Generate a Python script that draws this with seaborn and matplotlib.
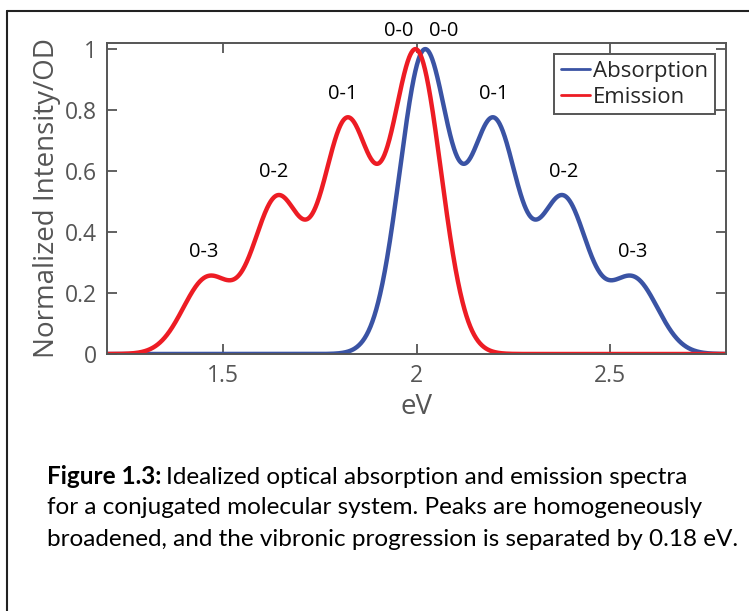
import numpy as np
import pandas as pd
import matplotlib
matplotlib.use("Agg")
import matplotlib.pyplot as plt
import seaborn as sns
from matplotlib.lines import Line2D

# Vibronic peaks (energy in eV, relative intensity) for each spectrum
absorption_peaks_ev = [2.02, 2.20, 2.38, 2.56]
emission_peaks_ev = [2.00, 1.82, 1.64, 1.46]
peak_heights = [1.00, 0.76, 0.51, 0.25]
peak_sigma_ev = 0.0635         # homogeneous broadening of every band
progression_labels = ["0-0", "0-1", "0-2", "0-3"]

series_names = ["Absorption", "Emission"]
series_colors = ["#3a53a4", "#ed1c24"]

x_ticks = [1.5, 2.0, 2.5]
x_tick_labels = ["1.5", "2", "2.5"]
y_ticks = [0, 0.2, 0.4, 0.6, 0.8, 1.0]
y_tick_labels = ["0", "0.2", "0.4", "0.6", "0.8", "1"]

energy = np.linspace(1.2, 2.8, 1601)


def broadened(centers, heights, sigma):
    s = np.zeros_like(energy)
    for c, h in zip(centers, heights):
        s += h * np.exp(-(energy - c) ** 2 / (2 * sigma ** 2))
    return s / s.max()


abs_curve = broadened(absorption_peaks_ev, peak_heights, peak_sigma_ev)
em_curve = broadened(emission_peaks_ev, peak_heights, peak_sigma_ev)

df = pd.concat([
    pd.DataFrame({"eV": energy, "value": abs_curve, "spectrum": "Absorption"}),
    pd.DataFrame({"eV": energy, "value": em_curve, "spectrum": "Emission"}),
])

sns.set_theme(style="white")
plt.rcParams["font.family"] = ["Open Sans", "DejaVu Sans"]

W, H = 749, 611
fig = plt.figure(figsize=(W / 100, H / 100), dpi=100)
ax = fig.add_axes([107 / W, 1 - 354 / H, (726 - 107) / W, (354 - 43) / H])

sns.lineplot(data=df, x="eV", y="value", hue="spectrum", hue_order=series_names,
             palette=series_colors, linewidth=3.2, ax=ax, legend=False,
             estimator=None, sort=False)

ax.set_xlim(1.2, 2.8)
ax.set_ylim(0, 1.02)

axis_grey = "#555555"
ax.set_xticks(x_ticks)
ax.set_xticklabels(x_tick_labels)
ax.set_yticks(y_ticks)
ax.set_yticklabels(y_tick_labels)
ax.tick_params(direction="in", length=7, width=1.3, color=axis_grey,
               labelcolor=axis_grey, labelsize=16.5, top=True, right=True,
               bottom=True, left=True, pad=7)
for sp in ax.spines.values():
    sp.set_visible(True)
    sp.set_color(axis_grey)
    sp.set_linewidth(1.4)

ax.set_xlabel("eV", fontsize=20, color=axis_grey, labelpad=4)
ax.set_ylabel("Normalized Intensity/OD", fontsize=20, color=axis_grey, labelpad=3)

# Peak labels for the vibronic progression
label_offset = 0.045
for i, lab in enumerate(progression_labels):
    if i == 0:
        continue
    ex = emission_peaks_ev[i]
    ax.text(ex - 0.01, np.interp(ex, energy, em_curve) + label_offset, lab,
            ha="center", va="bottom", fontsize=14.5, color="black")
    axx = absorption_peaks_ev[i]
    ax.text(axx, np.interp(axx, energy, abs_curve) + label_offset, lab,
            ha="center", va="bottom", fontsize=14.5, color="black")
ax.text(emission_peaks_ev[0] - 0.045, 1.025, progression_labels[0], ha="center",
        va="bottom", fontsize=14.5, color="black", clip_on=False)
ax.text(absorption_peaks_ev[0] + 0.05, 1.025, progression_labels[0], ha="center",
        va="bottom", fontsize=14.5, color="black", clip_on=False)

handles = [Line2D([0], [0], color=c, lw=2) for c in series_colors]
leg = ax.legend(handles, series_names, loc="upper right", fontsize=16,
                frameon=True, fancybox=False, framealpha=1, edgecolor=axis_grey,
                handlelength=1.3, handletextpad=0.15, borderpad=0.3,
                labelspacing=0.22, borderaxespad=0.5)
leg.get_frame().set_linewidth(1.4)

# Outer figure frame
fig.add_artist(Line2D([7 / W, 1.0], [1 - 11 / H, 1 - 11 / H], color="#222222", lw=1.5))
fig.add_artist(Line2D([7 / W, 7 / W], [0.0, 1 - 11 / H], color="#222222", lw=1.5))

# Caption: bold figure number followed by the description
cap_font = ["Lato", "DejaVu Sans"]
cap_size = 17.5
cap_x = 47 / W
renderer = fig.canvas.get_renderer()
head = fig.text(cap_x, 1 - 477 / H, "Figure 1.3:", fontsize=cap_size, fontweight="bold",
                family=cap_font, va="center", ha="left", color="black")
head_w = head.get_window_extent(renderer).width / W
fig.text(cap_x + head_w + 5 / W, 1 - 477 / H, "Idealized optical absorption and emission spectra",
         fontsize=cap_size, family=cap_font, va="center", ha="left", color="black")
fig.text(cap_x, 1 - 508 / H, "for a conjugated molecular system. Peaks are homogeneously",
         fontsize=cap_size, family=cap_font, va="center", ha="left", color="black")
fig.text(cap_x, 1 - 539 / H, "broadened, and the vibronic progression is separated by 0.18 eV.",
         fontsize=cap_size, family=cap_font, va="center", ha="left", color="black")

fig.savefig("out.png", dpi=100)
